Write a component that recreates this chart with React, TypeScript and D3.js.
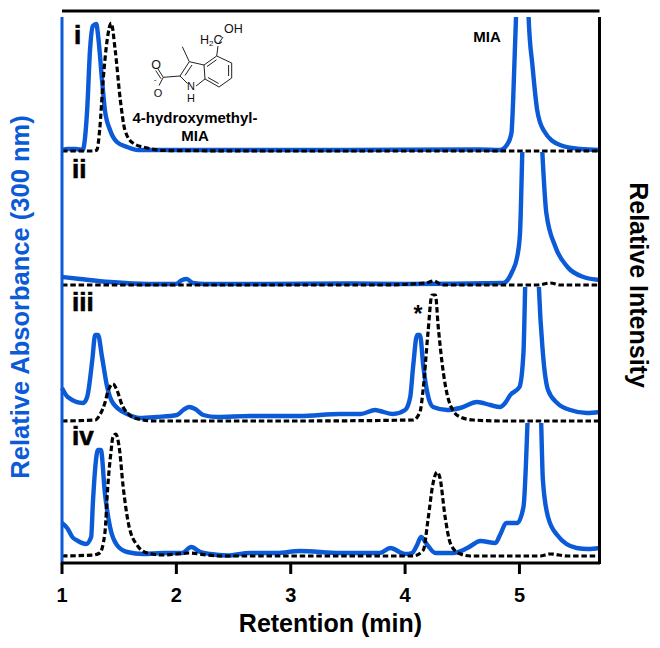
import React from "react";
import * as d3 from "d3";

type Pt = [number, number];

// [retention (min), relative signal]
const blueI: Pt[] = [[1,1],[1.05,2],[1.12,2],[1.18,1],[1.22,41],[1.245,101],[1.27,125],[1.30,127],[1.315,116],[1.35,71],[1.375,41],[1.42,21],[1.48,9],[1.57,4],[1.665,1],[2.5,1],[3.5,1],[4.65,1.5],[4.83,1],[4.89,6],[4.93,18],[4.945,51],[4.97,134],[5.025,420],[5.08,134],[5.115,84],[5.155,41],[5.21,21],[5.355,6],[5.53,2],[5.70,1]];
const blackI: Pt[] = [[1,0],[1.27,0],[1.305,1],[1.33,22],[1.36,71],[1.395,111],[1.43,128],[1.465,101],[1.51,51],[1.55,21],[1.62,8],[1.745,3],[1.90,0.5],[3,0],[5.70,0]];
const blueII: Pt[] = [[1,8],[1.16,6],[1.42,3],[1.75,1],[1.995,1],[2.05,5],[2.09,6],[2.145,2],[2.25,1],[2.8,1],[3.5,1.5],[4,1],[4.86,2],[4.935,13],[4.98,28],[5.005,52],[5.025,133],[5.11,430],[5.20,133],[5.235,72],[5.315,38],[5.42,18],[5.56,8],[5.70,5]];
const blackII: Pt[] = [[1,0],[3.78,0],[4.18,2],[4.25,4],[4.33,0],[5.16,0],[5.27,2],[5.36,0],[5.70,0]];
const blueIII: Pt[] = [[1,33],[1.05,24],[1.185,18],[1.22,24],[1.265,61],[1.29,86],[1.315,86],[1.35,64],[1.395,34],[1.445,18],[1.57,7],[1.68,3],[1.83,4],[2.005,6],[2.06,11],[2.11,14],[2.165,12],[2.235,6],[2.355,4],[2.645,5],[3.08,5],[3.43,7],[3.61,7],[3.74,11],[3.78,10],[3.895,7],[4.00,11],[4.045,24],[4.07,54],[4.105,86],[4.13,86],[4.16,54],[4.195,28],[4.245,14],[4.37,11],[4.48,13],[4.63,19],[4.745,16],[4.83,14],[4.875,18],[4.92,26],[5.00,34],[5.035,68],[5.05,134],[5.11,430],[5.17,134],[5.205,68],[5.25,31],[5.33,18],[5.445,11],[5.59,8],[5.70,9]];
const blackIII: Pt[] = [[1,0],[1.29,1],[1.33,6],[1.375,18],[1.40,29],[1.445,37],[1.48,31],[1.525,16],[1.58,7],[1.665,2],[1.80,0],[3,0],[4.07,1],[4.13,9],[4.16,34],[4.20,88],[4.235,126],[4.265,126],[4.29,94],[4.335,48],[4.395,16],[4.48,4],[4.595,1],[4.86,0],[5.70,0]];
const blueIV: Pt[] = [[1,33],[1.045,28],[1.09,19],[1.14,15],[1.21,12],[1.255,19],[1.27,53],[1.315,106],[1.34,106],[1.375,63],[1.42,29],[1.48,11],[1.57,4],[1.71,2],[1.885,3],[2.05,3],[2.13,9],[2.21,4],[2.295,2],[2.445,0.5],[2.645,3],[2.88,3],[3.08,5],[3.43,3],[3.695,3],[3.78,3],[3.87,8],[4.00,2],[4.06,3],[4.105,11],[4.14,19],[4.195,11],[4.265,3],[4.42,3],[4.545,8],[4.66,15],[4.79,13],[4.83,21],[4.885,33],[4.98,33],[5.035,49],[5.07,133],[5.13,430],[5.19,133],[5.205,76],[5.25,39],[5.33,21],[5.50,8],[5.60,7],[5.70,8]];
const blackIV: Pt[] = [[1,0],[1.27,1],[1.33,3],[1.375,23],[1.40,69],[1.43,106],[1.445,119],[1.47,122],[1.50,109],[1.535,69],[1.58,33],[1.655,11],[1.745,3],[1.885,1],[2.12,3],[2.27,1],[2.41,0],[4.07,0],[4.16,6],[4.20,36],[4.245,73],[4.28,84],[4.305,78],[4.35,39],[4.395,13],[4.465,3],[4.57,0],[5.18,0],[5.27,2],[5.42,0],[5.70,0]];

const xTicks = [1, 2, 3, 4, 5];
const panelNames = ["i", "ii", "iii", "iv"];
const panelBlue = [blueI, blueII, blueIII, blueIV];
const panelBlack = [blackI, blackII, blackIII, blackIV];
const panelBase = [151, 285, 421, 556];
const panelTop = [17, 152, 287, 423];
const panelLabelX = [74, 72, 72, 72];
const panelLabelY = [44, 178, 311, 445];

const BLUE = "#0b5ad7";
const FONT = "'Liberation Sans', Arial, sans-serif";

const x = d3.scaleLinear().domain([1, 5.7]).range([62, 599.5]);

// Skeletal formula of 4-hydroxymethyl-MIA
const bonds: [number, number, number, number][] = [
  [216.7, 56, 231.7, 63], [231.7, 63, 231.7, 78], [231.7, 78, 219, 87], [219, 87, 205, 79], [205, 79, 204, 65], [204, 65, 216.7, 56],
  [228.6, 65, 228.6, 76], [218.6, 83.5, 208, 77.5], [207, 66.5, 216.5, 59.8],
  [204, 65, 189.3, 61.7], [189.3, 61.7, 180, 76], [192, 65, 185, 75.5], [180, 76, 187.5, 83.5], [196, 86, 205, 79],
  [189.3, 61.7, 182.3, 46.7], [180, 76, 163.3, 77.3], [163.3, 77.3, 158, 69], [161, 78.7, 155.7, 70.5], [163.3, 77.3, 159, 85.5],
  [216.7, 56, 218, 46], [219, 43, 223, 37],
];

export default function App() {
  return (
    <svg width={660} height={648} style={{ position: "absolute", left: 0, top: 0, background: "#fff" }} fontFamily={FONT}>
      <defs>
        {panelBase.map((b, i) => (
          <clipPath id={`p${i}`} key={i}>
            <rect x={58} y={panelTop[i]} width={545} height={b - panelTop[i] + 12} />
          </clipPath>
        ))}
      </defs>

      {panelBase.map((b, i) => {
        const y = d3.scaleLinear().domain([0, 100]).range([b, b - 100]);
        const line = d3.line<Pt>().x((d) => x(d[0])).y((d) => y(d[1])).curve(d3.curveMonotoneX);
        return (
          <g key={i} clipPath={`url(#p${i})`}>
            <path d={line(panelBlue[i]) ?? ""} fill="none" stroke={BLUE} strokeWidth={4.4} strokeLinejoin="round" />
            <path d={line(panelBlack[i]) ?? ""} fill="none" stroke="#000" strokeWidth={3.2} strokeDasharray="5.5 2.8" />
          </g>
        );
      })}

      {/* frame */}
      <line x1={62} x2={599.5} y1={11} y2={11} stroke="#000" strokeWidth={3} />
      <line x1={62} x2={62} y1={17} y2={564} stroke={BLUE} strokeWidth={3} />
      <line x1={599.5} x2={599.5} y1={17} y2={564} stroke="#000" strokeWidth={3} />
      <line x1={61} x2={600} y1={563} y2={563} stroke="#000" strokeWidth={3} />
      {xTicks.map((t) => (
        <g key={t}>
          <line x1={x(t)} x2={x(t)} y1={563} y2={574} stroke="#000" strokeWidth={3} />
          <text x={x(t)} y={602} textAnchor="middle" fontSize={20} fontWeight={700}>{t}</text>
        </g>
      ))}

      {/* axis titles */}
      <text x={330.5} y={632} textAnchor="middle" fontSize={25} fontWeight={700}>Retention (min)</text>
      <text transform="translate(29,297) rotate(-90)" textAnchor="middle" fontSize={25.5} fontWeight={700} fill={BLUE}>Relative Absorbance (300 nm)</text>
      <text transform="translate(630,285) rotate(90)" textAnchor="middle" fontSize={25} fontWeight={700}>Relative Intensity</text>

      {/* panel labels */}
      {panelNames.map((n, i) => (
        <text key={n} x={panelLabelX[i]} y={panelLabelY[i]} fontSize={26} fontWeight={700} stroke="#000" strokeWidth={0.6}>{n}</text>
      ))}
      <text x={418} y={322} textAnchor="middle" fontSize={23} fontWeight={700}>*</text>

      {/* annotations */}
      <text x={487} y={41.5} textAnchor="middle" fontSize={15} fontWeight={700}>MIA</text>
      <text x={195} y={123} textAnchor="middle" fontSize={15} fontWeight={700}>4-hydroxymethyl-</text>
      <text x={195} y={140.5} textAnchor="middle" fontSize={15} fontWeight={700}>MIA</text>

      {/* structure */}
      <g stroke="#222" strokeWidth={1} fill="none">
        {bonds.map((b, i) => <line key={i} x1={b[0]} y1={b[1]} x2={b[2]} y2={b[3]} />)}
      </g>
      <g fontSize={11} fill="#111">
        <text x={224} y={33} fontSize={12.5}>OH</text>
        <text x={200} y={44} fontSize={12.5}>H<tspan fontSize={8} dy={2}>2</tspan><tspan dy={-2}>C</tspan></text>
        <text x={191} y={89.5} textAnchor="middle">N</text>
        <text x={191} y={102} textAnchor="middle">H</text>
        <text x={156} y={68.5} textAnchor="middle" fontSize={12.5}>O</text>
        <text x={158} y={97} textAnchor="middle">O</text>
        <text x={155} y={82} textAnchor="middle" fontSize={8}>-</text>
      </g>
    </svg>
  );
}
